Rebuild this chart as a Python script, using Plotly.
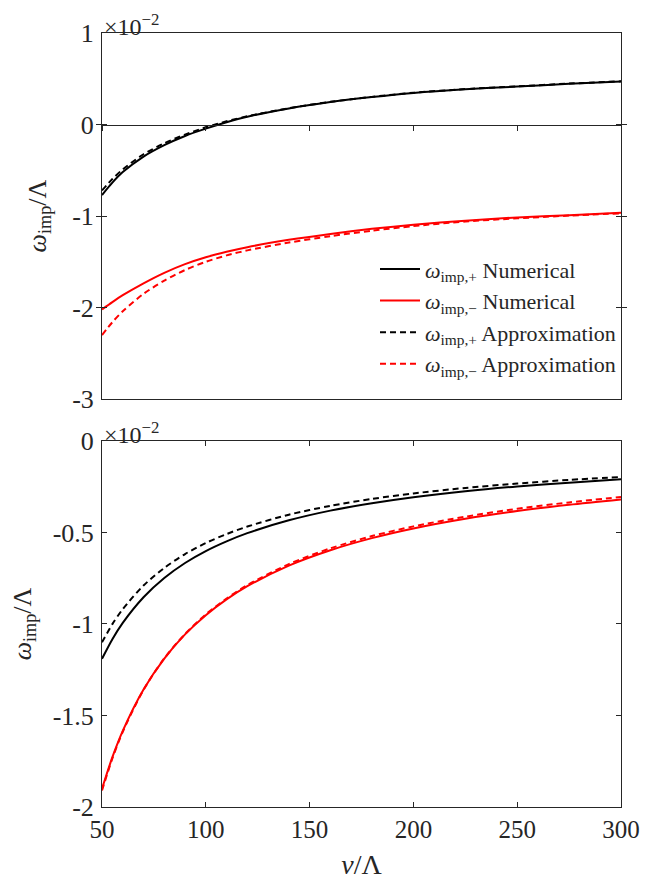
import plotly.graph_objects as go

# x values (nu / Lambda)
nu = [50, 55, 60, 70, 80, 90, 100, 110, 120, 140, 160, 180, 200, 225, 250, 275, 300]

# Top panel (units of 1e-2)
top_plus_num = [-0.77, -0.635, -0.52, -0.35, -0.225, -0.125, -0.045, 0.025, 0.085, 0.175, 0.245, 0.30, 0.345, 0.385, 0.415, 0.445, 0.47]
top_plus_app = [-0.72, -0.595, -0.49, -0.325, -0.205, -0.11, -0.03, 0.035, 0.09, 0.178, 0.248, 0.302, 0.347, 0.387, 0.417, 0.447, 0.472]
top_minus_num = [-2.02, -1.94, -1.865, -1.735, -1.62, -1.525, -1.45, -1.39, -1.34, -1.26, -1.195, -1.14, -1.095, -1.05, -1.015, -0.99, -0.965]
top_minus_app = [-2.30, -2.16, -2.04, -1.85, -1.705, -1.59, -1.50, -1.43, -1.375, -1.29, -1.22, -1.16, -1.11, -1.06, -1.025, -0.995, -0.97]

# Bottom panel (units of 1e-2)
bot_plus_num = [-1.19, -1.083, -0.994, -0.854, -0.749, -0.667, -0.602, -0.549, -0.504, -0.434, -0.381, -0.341, -0.308, -0.275, -0.249, -0.228, -0.21]
bot_plus_app = [-1.10, -1.001, -0.919, -0.79, -0.694, -0.618, -0.558, -0.509, -0.468, -0.403, -0.355, -0.317, -0.287, -0.257, -0.233, -0.213, -0.197]
bot_minus_num = [-1.90, -1.728, -1.584, -1.358, -1.189, -1.057, -0.952, -0.866, -0.794, -0.681, -0.597, -0.531, -0.478, -0.425, -0.383, -0.349, -0.32]
bot_minus_app = [-1.91, -1.735, -1.589, -1.36, -1.188, -1.055, -0.948, -0.861, -0.788, -0.673, -0.587, -0.52, -0.467, -0.414, -0.371, -0.336, -0.307]

x_ticks = [50, 100, 150, 200, 250, 300]
top_yticks = [-3, -2, -1, 0, 1]
top_yticktext = ["-3", "-2", "-1", "0", "1"]
bot_yticks = [-2, -1.5, -1, -0.5, 0]
bot_yticktext = ["-2", "-1.5", "-1", "-0.5", "0"]

top_range = [-3, 1]
bot_range = [-2, 0]
x_range = [50, 300]

names = [
    "<i>ω</i><sub>imp,+</sub> Numerical",
    "<i>ω</i><sub>imp,−</sub> Numerical",
    "<i>ω</i><sub>imp,+</sub> Approximation",
    "<i>ω</i><sub>imp,−</sub> Approximation",
]

FONT = "Liberation Serif"
AX = "#262626"
DASH = "6px,4px"
RED = "#ff0000"

fig = go.Figure()

def add(x, y, color, dash, name, xa, ya, show):
    fig.add_trace(go.Scatter(
        x=x, y=y, mode="lines", name=name, showlegend=show,
        line=dict(color=color, width=2, dash=dash, shape="spline", smoothing=0.8),
        xaxis=xa, yaxis=ya, hoverinfo="skip"))

# top panel: black curves on the framed x axis, red curves on the origin x axis
add(nu, top_plus_num, "black", "solid", names[0], "x", "y", True)
add(nu, top_minus_num, RED, "solid", names[1], "x3", "y", True)
add(nu, top_plus_app, "black", DASH, names[2], "x", "y", True)
add(nu, top_minus_app, RED, DASH, names[3], "x3", "y", True)

add(nu, bot_plus_num, "black", "solid", names[0], "x2", "y2", False)
add(nu, bot_minus_num, RED, "solid", names[1], "x2", "y2", False)
add(nu, bot_plus_app, "black", DASH, names[2], "x2", "y2", False)
add(nu, bot_minus_app, RED, DASH, names[3], "x2", "y2", False)

top_dom = [0.527, 1.0]
bot_dom = [0.0, 0.473]
zero_pos = top_dom[0] + (0 - top_range[0]) / (top_range[1] - top_range[0]) * (top_dom[1] - top_dom[0])

FS = 26
tickfont = dict(family=FONT, size=FS, color=AX)
xtickfont = dict(family=FONT, size=25, color=AX)

fig.update_layout(
    width=632, height=872,
    margin=dict(l=94, r=19, t=25, b=73),
    paper_bgcolor="white", plot_bgcolor="white",
    font=dict(family=FONT, size=FS, color=AX),
    xaxis=dict(domain=[0, 1], range=x_range, anchor="y", showline=True, mirror=True,
               linecolor=AX, linewidth=1, ticks="", showticklabels=False,
               showgrid=False, zeroline=False, automargin=False),
    xaxis3=dict(overlaying="x", anchor="free", position=zero_pos, range=x_range,
                tickvals=x_ticks, showline=True, linecolor=AX, linewidth=1,
                ticks="outside", ticklen=5, tickcolor=AX, showticklabels=False,
                showgrid=False, zeroline=False, side="bottom", automargin=False),
    yaxis=dict(domain=top_dom, range=top_range, anchor="x", tickvals=top_yticks,
               ticktext=top_yticktext, showline=True, mirror="allticks",
               linecolor=AX, linewidth=1, ticks="inside", ticklen=5, tickcolor=AX,
               tickfont=tickfont, showgrid=False, zeroline=False, ticklabelstandoff=2,
               automargin=False,
               title=dict(text="<i>ω</i><sub>imp</sub>/Λ", font=dict(family=FONT, size=FS), standoff=18)),
    xaxis2=dict(domain=[0, 1], range=x_range, anchor="y2", tickvals=x_ticks,
                showline=True, mirror="allticks", linecolor=AX, linewidth=1,
                ticks="inside", ticklen=5, tickcolor=AX, tickfont=xtickfont,
                showgrid=False, zeroline=False, automargin=False,
                title=dict(text="<i>ν</i>/Λ", font=dict(family=FONT, size=28), standoff=16)),
    yaxis2=dict(domain=bot_dom, range=bot_range, anchor="x2", tickvals=bot_yticks,
                ticktext=bot_yticktext, showline=True, mirror="allticks",
                linecolor=AX, linewidth=1, ticks="inside", ticklen=5, tickcolor=AX,
                tickfont=tickfont, showgrid=False, zeroline=False, ticklabelstandoff=2,
                automargin=False,
                title=dict(text="<i>ω</i><sub>imp</sub>/Λ", font=dict(family=FONT, size=FS), standoff=18)),
    legend=dict(x=1.0, xanchor="right", y=0.722, yanchor="top",
                bgcolor="rgba(255,255,255,0)", borderwidth=0,
                font=dict(family=FONT, size=22, color=AX),
                itemwidth=40, tracegroupgap=0),
    showlegend=True,
)

for dom in (top_dom, bot_dom):
    fig.add_annotation(x=0, y=dom[1], xref="paper", yref="paper",
                       xanchor="left", yanchor="bottom", showarrow=False,
                       text="×10<sup>−2</sup>", font=dict(family=FONT, size=24, color=AX),
                       yshift=-9)

fig.write_html("out.html", config={"displayModeBar": False})
